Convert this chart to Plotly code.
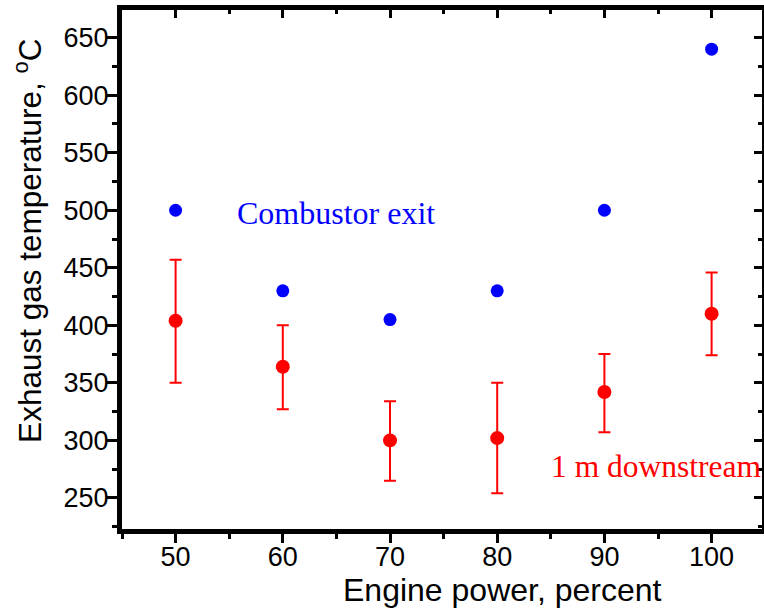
import plotly.graph_objects as go

power = [50, 60, 70, 80, 90, 100]
combustor_exit = [500, 430, 405, 430, 500, 640]
downstream = [404, 364, 300, 302, 342, 410]
down_upper = [457, 400, 334, 350, 375, 446]
down_lower = [350, 327, 265, 254, 307, 374]

err_plus = [u - v for u, v in zip(down_upper, downstream)]
err_minus = [v - l for v, l in zip(downstream, down_lower)]

x_ticks = [50, 60, 70, 80, 90, 100]
y_ticks = [250, 300, 350, 400, 450, 500, 550, 600, 650]
x_range = [45, 104.7]
y_range = [223, 674]

fig = go.Figure()
fig.add_trace(go.Scatter(
    x=power, y=combustor_exit, mode="markers",
    marker=dict(color="#0000ff", size=13), showlegend=False, cliponaxis=False))
fig.add_trace(go.Scatter(
    x=power, y=downstream, mode="markers",
    marker=dict(color="#ff0000", size=14),
    error_y=dict(type="data", symmetric=False, array=err_plus, arrayminus=err_minus,
                 color="#ff0000", thickness=2, width=6),
    showlegend=False, cliponaxis=False))
# invisible trace for mirror axes
fig.add_trace(go.Scatter(x=[None], y=[None], xaxis="x2", yaxis="y2", mode="markers",
                         showlegend=False, hoverinfo="skip"))

axfont = dict(family="Liberation Sans, Arial, sans-serif", size=27, color="black")

fig.update_layout(
    width=764, height=610,
    margin=dict(l=122, r=2, t=10, b=81, autoexpand=False),
    paper_bgcolor="white", plot_bgcolor="white",
    xaxis=dict(range=x_range, tickvals=x_ticks, ticks="outside", ticklen=9, tickwidth=3,
               tickcolor="black", showline=True, linewidth=5, linecolor="black",
               showgrid=False, zeroline=False, tickfont=axfont, automargin=False,
               ticklabelstandoff=-9,
               minor=dict(dtick=5, tick0=45, ticks="outside", ticklen=5, tickwidth=3, tickcolor="black")),
    yaxis=dict(range=y_range, tickvals=y_ticks, ticks="outside", ticklen=10, tickwidth=3,
               tickcolor="black", showline=True, linewidth=5, linecolor="black",
               showgrid=False, zeroline=False, tickfont=axfont, automargin=False,
               ticklabelstandoff=-7,
               minor=dict(dtick=25, tick0=225, ticks="outside", ticklen=5, tickwidth=3, tickcolor="black")),
    xaxis2=dict(range=x_range, overlaying="x", side="top", tickvals=x_ticks, ticks="inside",
                ticklen=8, tickwidth=3, tickcolor="black", showline=True, linewidth=5,
                linecolor="black", showgrid=False, zeroline=False, showticklabels=False,
                automargin=False,
                minor=dict(dtick=5, tick0=45, ticks="inside", ticklen=4, tickwidth=3, tickcolor="black")),
    yaxis2=dict(range=y_range, overlaying="y", side="right", tickvals=y_ticks, ticks="inside",
                ticklen=8, tickwidth=3, tickcolor="black", showline=True, linewidth=5,
                linecolor="black", showgrid=False, zeroline=False, showticklabels=False,
                automargin=False,
                minor=dict(dtick=25, tick0=225, ticks="inside", ticklen=4, tickwidth=3, tickcolor="black")),
    annotations=[
        dict(text="Engine power, percent", xref="paper", yref="paper", x=0.595, y=-0.118,
             xanchor="center", yanchor="middle", showarrow=False,
             font=dict(family="Liberation Sans, Arial, sans-serif", size=32, color="black")),
        dict(text="Exhaust gas temperature, <sup>o</sup>C", xref="paper", yref="paper",
             x=-0.147, y=0.555, xanchor="center", yanchor="middle", textangle=-90,
             showarrow=False,
             font=dict(family="Liberation Sans, Arial, sans-serif", size=31.5, color="black")),
        dict(text="Combustor exit", xref="x", yref="y", x=65, y=498, xanchor="center",
             yanchor="middle", showarrow=False,
             font=dict(family="Liberation Serif, Times New Roman, serif", size=32, color="#0000ff")),
        dict(text="1 m downstream", xref="x", yref="y", x=84.8, y=277, xanchor="left",
             yanchor="middle", showarrow=False,
             font=dict(family="Liberation Serif, Times New Roman, serif", size=31.5, color="#ff0000")),
    ],
)

fig.write_html("out.html", config={"displayModeBar": False},
               post_script="document.body.style.margin='0';")
